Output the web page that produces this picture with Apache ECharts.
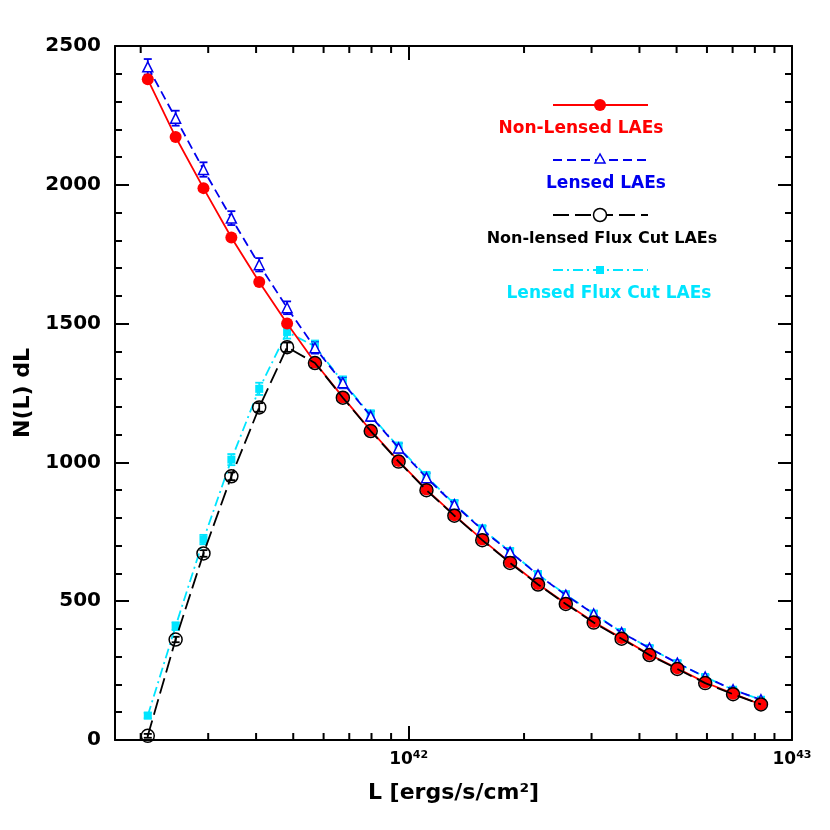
<!DOCTYPE html>
<html>
<head>
<meta charset="utf-8">
<script src="https://cdn.jsdelivr.net/npm/echarts@6/dist/echarts.min.js"></script>
<style>body{margin:0;padding:0;background:#fff}#main{width:830px;height:830px}</style>
</head>
<body>
<div id="main"></div>
<script>
const lum = [2.087e41, 2.467e41, 2.916e41, 3.448e41, 4.076e41, 4.819e41, 5.697e41, 6.735e41, 7.963e41, 9.415e41,
  1.113e42, 1.316e42, 1.556e42, 1.839e42, 2.175e42, 2.570e42, 3.039e42, 3.593e42, 4.248e42, 5.022e42,
  5.937e42, 7.019e42, 8.299e42];
const nonLensed = [2380, 2172, 1988, 1810, 1650, 1500, 1360, 1235, 1115, 1005, 902, 810, 722, 640, 562, 492, 425, 367, 308, 258, 207, 167, 128];
const lensed = [2425, 2240, 2055, 1880, 1712, 1557, 1413, 1287, 1167, 1052, 945, 848, 757, 677, 595, 522, 454, 387, 331, 277, 227, 181, 145];
const nonLensedCut = [15, 362, 672, 950, 1198, 1415, 1358, 1233, 1113, 1003, 900, 808, 720, 638, 560, 490, 423, 365, 306, 256, 205, 165, 128];
const lensedCut = [88, 410, 722, 1010, 1265, 1470, 1418, 1290, 1170, 1055, 950, 850, 760, 679, 596, 524, 455, 389, 331, 277, 227, 181, 145];
const errLensed = [28, 27, 26, 25, 24, 23, 21, 20, 18, 17, 16, 15, 14, 13, 12, 12, 11, 10, 9, 9, 8, 7, 7];
const errCut = [10, 14, 17, 20, 22, 24, 21, 20, 18, 17, 16, 15, 14, 13, 12, 12, 11, 10, 9, 9, 8, 7, 7];
const xMinorTicks = [2e41, 3e41, 4e41, 5e41, 6e41, 7e41, 8e41, 9e41, 2e42, 3e42, 4e42, 5e42, 6e42, 7e42, 8e42, 9e42];

const font = 'DejaVu Sans';
const pts = arr => arr.map((v, i) => [lum[i], v]);
const errData = (arr, err) => arr.map((v, i) => [lum[i], v - err[i], v + err[i]]);

function errSeries(arr, err, color) {
  return {
    type: 'custom', silent: true, z: 1,
    data: errData(arr, err),
    renderItem: function (params, api) {
      const lo = api.coord([api.value(0), api.value(1)]);
      const hi = api.coord([api.value(0), api.value(2)]);
      const w = 4;
      const st = { stroke: color, lineWidth: 1.8 };
      return {
        type: 'group',
        children: [
          { type: 'line', shape: { x1: lo[0], y1: lo[1], x2: hi[0], y2: hi[1] }, style: st },
          { type: 'line', shape: { x1: lo[0] - w, y1: lo[1], x2: lo[0] + w, y2: lo[1] }, style: st },
          { type: 'line', shape: { x1: hi[0] - w, y1: hi[1], x2: hi[0] + w, y2: hi[1] }, style: st }
        ]
      };
    }
  };
}

const axisLine = { show: true, onZero: false, lineStyle: { color: '#000', width: 2 } };
const axisTick = { show: true, inside: true, length: 14, lineStyle: { color: '#000', width: 2 } };
const yMinor = { show: true, splitNumber: 5, length: 7, lineStyle: { color: '#000', width: 2 } };

const chart = echarts.init(document.getElementById('main'));
const xMin = 1.714e41, xMax = 1e43;
const option = {
  animation: false,
  grid: { left: 115, right: 38, top: 46, bottom: 90 },
  xAxis: [
    {
      type: 'log', logBase: 10, min: xMin, max: xMax, position: 'bottom',
      axisLine, axisTick, splitLine: { show: false },
      name: 'L [ergs/s/cm²]', nameLocation: 'middle', nameGap: 42,
      nameTextStyle: { fontFamily: font, fontWeight: 'bold', fontSize: 22, color: '#000' },
      axisLabel: {
        fontFamily: font, fontWeight: 'bold', color: '#000', margin: 10, fontSize: 17,
        formatter: v => { const e = Math.round(Math.log10(v)); return (Math.abs(Math.log10(v) - e) < 1e-6) ? '10{s|' + e + '}' : ''; },
        rich: { s: { fontSize: 11, fontWeight: 'bold', fontFamily: font, verticalAlign: 'top', padding: [0, 0, 8, 0] } }
      }
    },
    {
      type: 'log', logBase: 10, min: xMin, max: xMax, position: 'top',
      axisLine, axisTick, splitLine: { show: false }, axisLabel: { show: false }
    }
  ],
  yAxis: [
    {
      type: 'value', min: 0, max: 2500, interval: 500, position: 'left',
      axisLine, axisTick, minorTick: yMinor, splitLine: { show: false },
      name: 'N(L) dL', nameLocation: 'middle', nameGap: 80,
      nameTextStyle: { fontFamily: font, fontWeight: 'bold', fontSize: 22, color: '#000' },
      axisLabel: { fontFamily: font, fontWeight: 'bold', fontSize: 20, color: '#000', margin: 14, formatter: v => String(v) }
    },
    {
      type: 'value', min: 0, max: 2500, interval: 500, position: 'right',
      axisLine, axisTick, minorTick: yMinor, splitLine: { show: false }, axisLabel: { show: false }
    }
  ],
  series: [
    {
      type: 'custom', silent: true, z: 10,
      data: xMinorTicks.map(v => [v, 0]),
      renderItem: function (params, api) {
        const cs = params.coordSys;
        const x = api.coord([api.value(0), 0])[0];
        const st = { stroke: '#000', lineWidth: 2 };
        return {
          type: 'group',
          children: [
            { type: 'line', shape: { x1: x, y1: cs.y + cs.height, x2: x, y2: cs.y + cs.height - 7 }, style: st },
            { type: 'line', shape: { x1: x, y1: cs.y, x2: x, y2: cs.y + 7 }, style: st }
          ]
        };
      }
    },
    errSeries(lensed, errLensed, '#0000ee'),
    errSeries(lensedCut, errCut, '#00e5ff'),
    errSeries(nonLensedCut, errCut.map(e => e * 0.7), '#000'),
    { type: 'line', name: 'Lensed Flux Cut LAEs', data: pts(lensedCut), symbol: 'rect', symbolSize: 8,
      itemStyle: { color: '#00e5ff' }, lineStyle: { color: '#00e5ff', width: 1.8, type: [10, 4, 2, 4] }, z: 2 },
    { type: 'line', name: 'Lensed LAEs', data: pts(lensed), symbol: 'triangle', symbolSize: 10,
      itemStyle: { color: '#fff', borderColor: '#0000ee', borderWidth: 1.5 }, lineStyle: { color: '#0000ee', width: 1.8, type: [9, 5] }, z: 3 },
    { type: 'line', name: 'Non-lensed Flux Cut LAEs', data: pts(nonLensedCut), symbol: 'circle', symbolSize: 13,
      itemStyle: { color: 'rgba(0,0,0,0)', borderColor: '#000', borderWidth: 1.5 }, lineStyle: { color: '#000', width: 1.8, type: [16, 6] }, z: 4 },
    { type: 'line', name: 'Non-Lensed LAEs', data: pts(nonLensed), symbol: 'circle', symbolSize: 12,
      itemStyle: { color: '#ff0000' }, lineStyle: { color: '#ff0000', width: 1.8 }, z: 3 }
  ],
  graphic: [
    { type: 'line', shape: { x1: 553, y1: 105, x2: 648, y2: 105 }, style: { stroke: '#ff0000', lineWidth: 1.8 } },
    { type: 'circle', shape: { cx: 600, cy: 105, r: 6 }, style: { fill: '#ff0000' } },
    { type: 'text', x: 581, y: 129, style: { text: 'Non-Lensed LAEs', fill: '#ff0000', font: 'bold 17px "DejaVu Sans"', align: 'center', verticalAlign: 'middle' } },
    { type: 'line', shape: { x1: 553, y1: 160, x2: 648, y2: 160 }, style: { stroke: '#0000ee', lineWidth: 1.8, lineDash: [9, 5] } },
    { type: 'polygon', shape: { points: [[600, 154], [595, 163], [605, 163]] }, style: { fill: '#fff', stroke: '#0000ee', lineWidth: 1.5 } },
    { type: 'text', x: 606, y: 184, style: { text: 'Lensed LAEs', fill: '#0000ee', font: 'bold 17px "DejaVu Sans"', align: 'center', verticalAlign: 'middle' } },
    { type: 'line', shape: { x1: 553, y1: 215, x2: 648, y2: 215 }, style: { stroke: '#000', lineWidth: 1.8, lineDash: [16, 6] } },
    { type: 'circle', shape: { cx: 600, cy: 215, r: 6.5 }, style: { fill: '#fff', stroke: '#000', lineWidth: 1.5 } },
    { type: 'text', x: 602, y: 239, style: { text: 'Non-lensed Flux Cut LAEs', fill: '#000', font: 'bold 16px "DejaVu Sans"', align: 'center', verticalAlign: 'middle' } },
    { type: 'line', shape: { x1: 553, y1: 270, x2: 648, y2: 270 }, style: { stroke: '#00e5ff', lineWidth: 1.8, lineDash: [10, 4, 2, 4] } },
    { type: 'rect', shape: { x: 596, y: 266, width: 8, height: 8 }, style: { fill: '#00e5ff' } },
    { type: 'text', x: 609, y: 294, style: { text: 'Lensed Flux Cut LAEs', fill: '#00e5ff', font: 'bold 17px "DejaVu Sans"', align: 'center', verticalAlign: 'middle' } }
  ]
};
chart.setOption(option);
</script>
</body>
</html>
